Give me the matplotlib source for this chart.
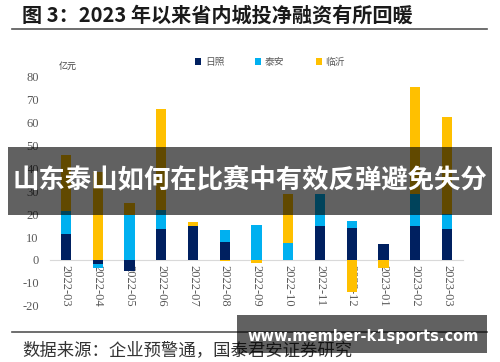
import numpy as np
import matplotlib.pyplot as plt
from matplotlib.patches import Rectangle
from matplotlib.lines import Line2D

months = ['2022-03', '2022-04', '2022-05', '2022-06', '2022-07', '2022-08', '2022-09',
          '2022-10', '2022-11', '2022-12', '2023-01', '2023-02', '2023-03']
rizhao = [11.5, -2.0, -4.8, 13.5, 15.0, 7.8, 0.0, 0.0, 15.0, 14.0, 6.9, 15.0, 13.6]
taian = [9.8, -1.5, 19.8, 8.2, 0.0, 5.1, 15.1, 7.4, 13.6, 2.9, 0.0, 13.6, 6.4]
linyi = [24.7, 38.6, 5.2, 44.1, 1.6, -0.5, -1.5, 21.2, 0.0, -13.8, -3.7, 47.0, 42.4]
series_names = ['日照', '泰安', '临沂']
yticks = [-20, -10, 0, 10, 20, 30, 40, 50, 60, 70, 80]

plt.rcParams['font.family'] = ['Liberation Serif', 'Noto Sans CJK SC']
plt.rcParams['axes.unicode_minus'] = False

colors = ['#002060', '#00B0F0', '#FFC000']
CJK = ['Noto Sans CJK SC', 'DejaVu Sans']
GRAY = '#595959'

fig = plt.figure(figsize=(5, 3.62), dpi=100)
ax = fig.add_axes([0.1, 0.1555, 0.826, 0.6325])

x = np.arange(len(months))
pos_bottom = np.zeros(len(months))
neg_bottom = np.zeros(len(months))
for vals, name, c in zip([rizhao, taian, linyi], series_names, colors):
    v = np.array(vals)
    b = np.where(v >= 0, pos_bottom, neg_bottom)
    ax.bar(x, v, 0.32, bottom=b, color=c, label=name, zorder=2)
    pos_bottom += np.clip(v, 0, None)
    neg_bottom += np.clip(v, None, 0)

ax.set_xlim(-0.5, len(months) - 0.5)
ax.set_ylim(-20, 80)
ax.set_yticks(yticks)
ax.set_xticks(x)
ax.set_xticklabels(months)
ax.tick_params(axis='y', length=0, labelsize=9, labelcolor=GRAY, pad=8)
ax.tick_params(axis='x', length=0, pad=4, labelrotation=270, labelsize=9, labelcolor=GRAY)
for s in ['top', 'right', 'left']:
    ax.spines[s].set_visible(False)
ax.spines['bottom'].set_position(('data', 0))
ax.spines['bottom'].set_color('#d9d9d9')
ax.spines['bottom'].set_zorder(1)

ax.text(0.136, 0.818, '亿元', transform=fig.transFigure, family=CJK, fontsize=6.5,
        color='#404040', ha='center', va='center')

leg = ax.legend(loc='center', bbox_to_anchor=(0.54, 0.829), bbox_transform=fig.transFigure,
                ncol=3, frameon=False, handlelength=0.6, handleheight=0.6, handletextpad=0.4,
                columnspacing=3.2, prop={'family': CJK, 'size': 7})
for t in leg.get_texts():
    t.set_color(GRAY)

# title and frame lines
fig.text(0.044, 0.957, '图 3：2023 年以来省内城投净融资有所回暖', family=CJK, fontsize=14.5,
         weight='bold', color='#1a1a1a', ha='left', va='center')
fig.add_artist(Line2D([0.024, 0.974], [0.919, 0.919], color='#555555', lw=1.2))
fig.add_artist(Line2D([0.024, 0.974], [0.084, 0.084], color='#555555', lw=1.2))
fig.text(0.044, 0.033, '数据来源：企业预警通，国泰君安证券研究', family=CJK, fontsize=12.5,
         color='#333333', ha='left', va='center')

# overlay banner
fig.add_artist(Rectangle((0.016, 0.406), 0.968, 0.188, transform=fig.transFigure,
                         color='black', alpha=0.62, lw=0, zorder=10))
fig.text(0.5, 0.5, '山东泰山如何在比赛中有效反弹避免失分', family=CJK, fontsize=19,
         weight='bold', color='white', ha='center', va='center', zorder=11)

# watermark
fig.add_artist(Rectangle((0.474, 0.025), 0.5, 0.105, transform=fig.transFigure,
                         color='black', alpha=0.62, lw=0, zorder=10))
fig.text(0.727, 0.07, 'www.member-k1sports.com', family='DejaVu Sans', fontsize=10.5,
         weight='bold', color='white', ha='center', va='center', zorder=11)

fig.savefig('out.png', dpi=100)
